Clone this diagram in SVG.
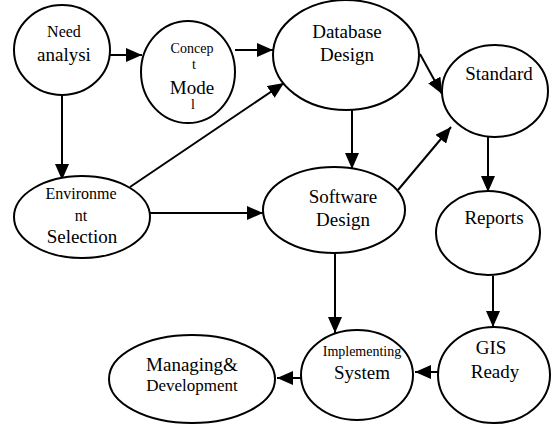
<svg xmlns="http://www.w3.org/2000/svg" width="551" height="424" viewBox="0 0 551 424">
<style>
.n{fill:#fff;stroke:#000;stroke-width:2}
.c line{stroke:#000;stroke-width:2;marker-end:url(#ah)}
text{font-family:"Liberation Serif","Times New Roman",serif;fill:#000;text-anchor:middle;font-size:19px}
.s14{font-size:14px}.s16{font-size:16px}.s17{font-size:17px}
</style>
<defs>
<marker id="ah" markerUnits="userSpaceOnUse" markerWidth="16" markerHeight="14" viewBox="0 0 16 14" refX="16" refY="7" orient="auto">
<path d="M0,0 L16,7 L0,14 Z" fill="#000"/>
</marker>
</defs>
<rect width="551" height="424" fill="#fff"/>
<g class="c" id="connectors">
<line x1="110" y1="55" x2="142" y2="55"/>
<line x1="235" y1="50" x2="273" y2="50"/>
<line x1="420" y1="54" x2="442" y2="94"/>
<line x1="130" y1="187" x2="284" y2="83"/>
<line x1="62" y1="95" x2="62" y2="180"/>
<line x1="150" y1="213" x2="263" y2="213"/>
<line x1="352" y1="110" x2="352" y2="169"/>
<line x1="398" y1="190" x2="451" y2="127"/>
<line x1="488" y1="137" x2="488" y2="192"/>
<line x1="493" y1="276" x2="493" y2="327"/>
<line x1="438" y1="372" x2="415" y2="372"/>
<line x1="335" y1="253" x2="335" y2="333"/>
<line x1="302" y1="378" x2="277" y2="378"/>
</g>
<g id="need">
<ellipse class="n" cx="62" cy="50" rx="48" ry="45"/>
<text x="64" y="37" class="s16">Need</text>
<text x="64" y="61">analysi</text>
</g>
<g id="concept">
<ellipse class="n" cx="188" cy="72" rx="47" ry="51"/>
<text x="192" y="53" class="s14">Concep</text>
<text x="194" y="69" class="s14">t</text>
<text x="192" y="94">Mode</text>
<text x="193" y="109" class="s14">l</text>
</g>
<g id="database">
<ellipse class="n" cx="346" cy="55" rx="73" ry="55"/>
<text x="347" y="38">Database</text>
<text x="347" y="61">Design</text>
</g>
<g id="standard">
<ellipse class="n" cx="495" cy="91" rx="53" ry="46"/>
<text x="499" y="80">Standard</text>
</g>
<g id="environment">
<ellipse class="n" cx="82" cy="217" rx="68" ry="41"/>
<text x="81" y="199" class="s16">Environme</text>
<text x="81" y="221" class="s16">nt</text>
<text x="82" y="243">Selection</text>
</g>
<g id="software">
<ellipse class="n" cx="334" cy="210" rx="71" ry="43"/>
<text x="343" y="203">Software</text>
<text x="343" y="226">Design</text>
</g>
<g id="reports">
<ellipse class="n" cx="488" cy="233" rx="52" ry="42"/>
<text x="494" y="224">Reports</text>
</g>
<g id="gis">
<ellipse class="n" cx="494" cy="375" rx="56" ry="48"/>
<text x="491" y="354">GIS</text>
<text x="495" y="378">Ready</text>
</g>
<g id="implementing">
<ellipse class="n" cx="357" cy="375" rx="56" ry="45"/>
<text x="362" y="356" class="s14">Implementing</text>
<text x="362" y="379">System</text>
</g>
<g id="managing">
<ellipse class="n" cx="192" cy="379" rx="83" ry="44"/>
<text x="192" y="371">Managing&amp;</text>
<text x="192" y="391" class="s17">Development</text>
</g>
</svg>
